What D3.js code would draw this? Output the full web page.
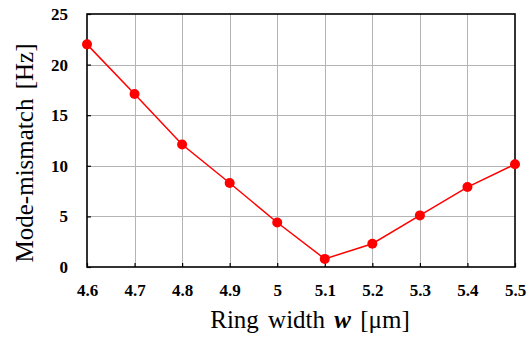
<!DOCTYPE html>
<html lang="en">
<head>
    <style>
        body { margin: 0; background: #fff; }
        .tick text { font-family: "Liberation Serif", "Times New Roman", serif; font-weight: bold; font-size: 17px; fill: #000; }
        .title { font-family: "Liberation Serif", "Times New Roman", serif; font-size: 25px; fill: #000; }
    </style>
    <script src="https://d3js.org/d3.v7.min.js"></script>
</head>
<body>
<script>
    var width = 529, height = 340;
    var plotLeft = 87, plotRight = 515, plotTop = 14, plotBottom = 267;

    // ring width (um) and mode mismatch (Hz)
    var widths = [4.6, 4.7, 4.8, 4.9, 5.0, 5.1, 5.2, 5.3, 5.4, 5.5];
    var mismatch = [22.0, 17.1, 12.1, 8.3, 4.4, 0.8, 2.3, 5.1, 7.9, 10.15];
    var xTicks = [4.6, 4.7, 4.8, 4.9, 5.0, 5.1, 5.2, 5.3, 5.4, 5.5];
    var yTicks = [0, 5, 10, 15, 20, 25];

    var points = [];
    for (var i = 0; i < widths.length; i++) {
        points.push({x: widths[i], y: mismatch[i]});
    }

    var svg = d3.select("body")
                .append("svg")
                .attr("width", width)
                .attr("height", height);

    var xscale = d3.scaleLinear()
                   .domain([4.6, 5.5])
                   .range([plotLeft, plotRight]);

    var yscale = d3.scaleLinear()
                   .domain([0, 25])
                   .range([plotBottom, plotTop]);

    // grid
    svg.append("g").selectAll("line")
       .data(xTicks.slice(1, -1))
       .enter().append("line")
       .attr("x1", function(d) { return Math.round(xscale(d)) + 0.5; })
       .attr("x2", function(d) { return Math.round(xscale(d)) + 0.5; })
       .attr("y1", plotTop).attr("y2", plotBottom)
       .attr("stroke", "#b4b4b4").attr("stroke-width", 1);

    svg.append("g").selectAll("line")
       .data(yTicks.slice(1, -1))
       .enter().append("line")
       .attr("y1", function(d) { return Math.round(yscale(d)) + 0.5; })
       .attr("y2", function(d) { return Math.round(yscale(d)) + 0.5; })
       .attr("x1", plotLeft).attr("x2", plotRight)
       .attr("stroke", "#b4b4b4").attr("stroke-width", 1);

    // axes, ticks pointing inward
    var x_axis = d3.axisBottom(xscale)
                   .tickValues(xTicks)
                   .tickSizeInner(-4).tickSizeOuter(0)
                   .tickPadding(17)
                   .tickFormat(function(d) { return d3.format("")(+d.toFixed(1)); });

    var y_axis = d3.axisLeft(yscale)
                   .tickValues(yTicks)
                   .tickSizeInner(-4).tickSizeOuter(0)
                   .tickPadding(19);

    var gx = svg.append("g")
       .attr("transform", "translate(0," + plotBottom + ")")
       .call(x_axis);
    gx.select(".domain").remove();
    gx.selectAll(".tick line").attr("stroke", "#000").attr("stroke-width", 1.2);

    var gy = svg.append("g")
       .attr("transform", "translate(" + plotLeft + ",0)")
       .call(y_axis);
    gy.select(".domain").remove();
    gy.selectAll(".tick line").attr("stroke", "#000").attr("stroke-width", 1.2);

    // frame
    svg.append("rect")
       .attr("x", plotLeft).attr("y", plotTop)
       .attr("width", plotRight - plotLeft).attr("height", plotBottom - plotTop)
       .attr("fill", "none").attr("stroke", "#000").attr("stroke-width", 1.6);

    // series
    var line = d3.line()
                 .x(function(d) { return xscale(d.x); })
                 .y(function(d) { return yscale(d.y); });

    svg.append("path")
       .datum(points)
       .attr("d", line)
       .attr("fill", "none")
       .attr("stroke", "#ff0000")
       .attr("stroke-width", 1.5);

    svg.selectAll(".point")
       .data(points)
       .enter().append("circle")
       .attr("class", "point")
       .attr("cx", function(d) { return xscale(d.x); })
       .attr("cy", function(d) { return yscale(d.y); })
       .attr("r", 5)
       .attr("fill", "#ff0000");

    // titles
    var xt = svg.append("text")
       .attr("class", "title")
       .attr("x", 310)
       .attr("y", 328)
       .attr("word-spacing", "3px")
       .attr("text-anchor", "middle");
    xt.append("tspan").text("Ring width ");
    xt.append("tspan").attr("font-weight", "bold").attr("font-style", "italic").text("w");
    xt.append("tspan").text(" [\u03bcm]");

    svg.append("text")
       .attr("class", "title")
       .attr("transform", "translate(33,153) rotate(-90)")
       .attr("text-anchor", "middle")
       .attr("word-spacing", "3px")
       .text("Mode-mismatch [Hz]");
</script>
</body>
</html>
